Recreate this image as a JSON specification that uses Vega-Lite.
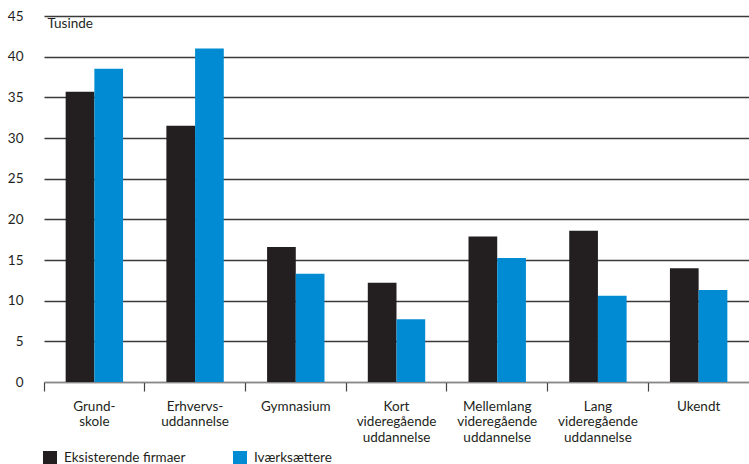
{
  "$schema": "https://vega.github.io/schema/vega-lite/v6.json",
  "width": 709,
  "height": 366,
  "autosize": "none",
  "padding": {"left": 40, "top": 16, "right": 0, "bottom": 82},
  "background": "white",
  "config": {
    "view": {"stroke": null},
    "font": "Lato",
    "text": {"font": "Lato"}
  },
  "data": {
    "values": [
      {"cat": "Grund-|skole", "serie": "Eksisterende firmaer", "v": 35.7},
      {"cat": "Grund-|skole", "serie": "Iværksættere", "v": 38.5},
      {"cat": "Erhvervs-|uddannelse", "serie": "Eksisterende firmaer", "v": 31.5},
      {"cat": "Erhvervs-|uddannelse", "serie": "Iværksættere", "v": 41.0},
      {"cat": "Gymnasium", "serie": "Eksisterende firmaer", "v": 16.6},
      {"cat": "Gymnasium", "serie": "Iværksættere", "v": 13.3},
      {"cat": "Kort|videregående|uddannelse", "serie": "Eksisterende firmaer", "v": 12.2},
      {"cat": "Kort|videregående|uddannelse", "serie": "Iværksættere", "v": 7.7},
      {"cat": "Mellemlang|videregående|uddannelse", "serie": "Eksisterende firmaer", "v": 17.9},
      {"cat": "Mellemlang|videregående|uddannelse", "serie": "Iværksættere", "v": 15.25},
      {"cat": "Lang|videregående|uddannelse", "serie": "Eksisterende firmaer", "v": 18.6},
      {"cat": "Lang|videregående|uddannelse", "serie": "Iværksættere", "v": 10.6},
      {"cat": "Ukendt", "serie": "Eksisterende firmaer", "v": 14.0},
      {"cat": "Ukendt", "serie": "Iværksættere", "v": 11.3}
    ]
  },
  "mark": {"type": "bar"},
  "encoding": {
    "x": {
      "field": "cat",
      "type": "nominal",
      "sort": null,
      "scale": {"range": [4, 709], "paddingInner": 0.43, "paddingOuter": 0.215},
      "axis": {
        "title": null,
        "labelAngle": 0,
        "labelExpr": "split(datum.label, '|')",
        "labelFont": "Lato",
        "labelFontSize": 13.5,
        "labelLineHeight": 15.5,
        "labelColor": "#231f20",
        "labelPadding": 8,
        "labelBaseline": "top",
        "bandPosition": -0.377,
        "labelOffset": 0,
        "tickSize": 9,
        "tickColor": "#444",
        "tickWidth": 1.2,
        "domainColor": "#888",
        "domainWidth": 1.2,
        "grid": false
      }
    },
    "xOffset": {"field": "serie", "type": "nominal", "sort": ["Eksisterende firmaer", "Iværksættere"], "scale": {"paddingInner": 0, "paddingOuter": 0}},
    "y": {
      "field": "v",
      "type": "quantitative",
      "scale": {"domain": [0, 45], "nice": false},
      "axis": {
        "values": [0, 5, 10, 15, 20, 25, 30, 35, 40, 45],
        "title": "Tusinde",
        "titleAngle": 0,
        "titleAlign": "left",
        "titleBaseline": "middle",
        "titleX": 7,
        "titleY": 7,
        "titleFont": "Lato",
        "titleFontSize": 13.5,
        "titleFontWeight": "normal",
        "titleColor": "#231f20",
        "labelFont": "Lato",
        "labelFontSize": 13.5,
        "labelColor": "#231f20",
        "labelPadding": 17,
        "ticks": false,
        "domain": false,
        "grid": true,
        "gridColor": "#3a3a3a",
        "gridWidth": 1.6
      }
    },
    "color": {
      "field": "serie",
      "type": "nominal",
      "scale": {"domain": ["Eksisterende firmaer", "Iværksættere"], "range": ["#231f20", "#008bd2"]},
      "legend": {
        "title": null,
        "orient": "none",
        "legendX": 3,
        "legendY": 435,
        "direction": "horizontal",
        "columns": 2,
        "columnPadding": 47,
        "symbolType": "square",
        "symbolSize": 196,
        "symbolStrokeWidth": 0,
        "labelFont": "Lato",
        "labelFontSize": 13.5,
        "labelColor": "#231f20",
        "labelOffset": 7
      }
    }
  }
}
